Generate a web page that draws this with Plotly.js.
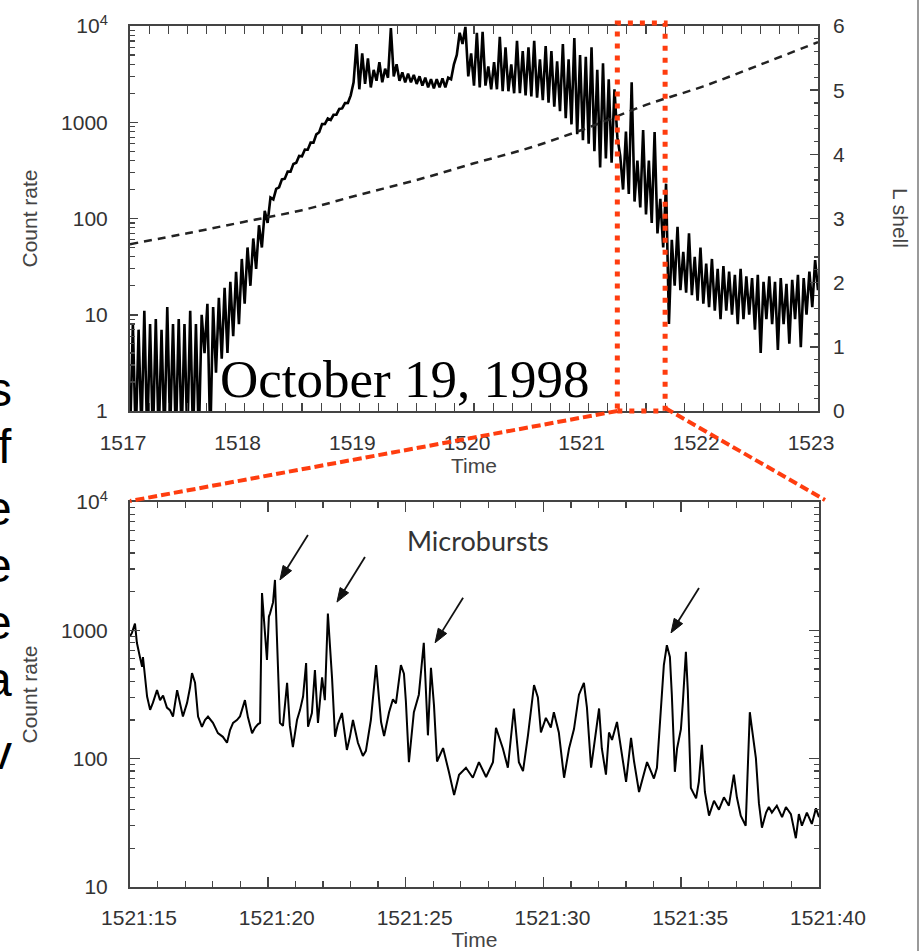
<!DOCTYPE html>
<html><head><meta charset="utf-8">
<script src="https://cdn.plot.ly/plotly-3.0.1.min.js"></script>
<style>html,body{margin:0;padding:0;background:#fff;}#chart{width:922px;height:951px;}</style>
</head><body><div id="chart"></div>
<script>
// ---------- DATA ----------
// Top panel: count rate sampled evenly from 1517 to 1523 (time in minutes, hhmm)
const topStart = 1517, topEnd = 1523;
const topRate = [
  0.5, 8, 0.5, 7, 0.6, 11, 0.5, 8, 0.5, 9,
  0.5, 7, 0.5, 12, 0.6, 8, 0.5, 9, 0.5, 8,
  0.5, 11, 0.5, 8, 0.5, 10, 4, 13, 0.5, 12,
  2.5, 15, 3.5, 19, 4, 22, 6, 28, 8, 38,
  13, 50, 20, 62, 30, 85, 50, 120, 90, 165,
  158, 203, 211, 255, 259, 307, 307, 369, 379, 447,
  442, 520, 518, 614, 614, 749, 787, 957, 960, 1092,
  1056, 1196, 1200, 1373, 1392, 1581, 1584, 1903, 2600, 6500,
  2200, 5200, 2500, 4600, 2300, 3500, 2700, 4200, 2600, 3600,
  2900, 9500, 3000, 4000, 2700, 3300, 2600, 3200, 2600, 3100,
  2500, 3000, 2400, 2900, 2300, 2800, 2250, 2800, 2300, 2850,
  2300, 2900, 2800, 4000, 5000, 8500, 6500, 9800, 3000, 5200,
  2400, 8500, 2300, 8700, 2400, 3800, 2200, 4200, 2200, 7700,
  2100, 6000, 2100, 4000, 2000, 7000, 2000, 5500, 1900, 6000,
  1850, 7000, 1800, 4500, 1700, 6200, 1600, 5500, 1450, 4300,
  1300, 6500, 1100, 4500, 950, 7500, 750, 5000, 650, 4800,
  600, 6000, 500, 3500, 340, 4100, 420, 2800, 380, 2200,
  700, 450, 200, 800, 180, 2600, 150, 400, 130, 830,
  110, 400, 90, 790, 70, 160, 50, 230, 8, 60,
  20, 82, 18, 45, 17, 70, 16, 40, 14, 50,
  13, 34, 12, 38, 11, 30, 9, 32, 11, 28,
  10, 26, 8, 30, 9, 25, 10, 24, 7, 26,
  4, 22, 9, 25, 8, 22, 4.3, 24, 8, 21,
  5, 23, 9, 26, 4.6, 24, 10, 28, 12, 37,
  18
];
// L shell (right axis, dashed)
const lshellTime  = [1517, 1517.5, 1518, 1518.5, 1519, 1519.5, 1520, 1520.5, 1521, 1521.5, 1522, 1522.5, 1523];
const lshellValue = [2.60, 2.77, 2.95, 3.13, 3.37, 3.60, 3.86, 4.11, 4.42, 4.77, 5.06, 5.40, 5.75];

const topXTicks = [1517, 1518, 1519, 1520, 1521, 1522, 1523];
const rateTickVals = [1, 10, 100, 1000, 10000];
const rateTickText = ['1', '10', '100', '1000', '10<sup>4</sup>'];
const lshellTicks = [0, 1, 2, 3, 4, 5, 6];

// Zoomed window (minutes): 1521:15 - 1521:40
const zoomWindow = [1521.25, 1521 + 40 / 60];

// Bottom panel: seconds after 15:21, count rate
const burstSec = [
  15.00, 15.07, 15.18, 15.25, 15.36, 15.44, 15.47, 15.54, 15.62, 15.73,
  15.83, 15.98, 16.09, 16.20, 16.34, 16.45, 16.56, 16.71, 16.81, 16.92,
  17.07, 17.18, 17.25, 17.36, 17.47, 17.61, 17.72, 17.83, 18.01, 18.19,
  18.37, 18.52, 18.63, 18.74, 18.88, 18.99, 19.17, 19.28, 19.43, 19.54,
  19.64, 19.72, 19.79, 19.83, 19.90, 19.97, 20.04, 20.08, 20.19, 20.26,
  20.33, 20.44, 20.55, 20.70, 20.80, 20.91, 21.06, 21.17, 21.28, 21.39,
  21.46, 21.60, 21.71, 21.82, 21.97, 22.07, 22.18, 22.33, 22.44, 22.54,
  22.69, 22.87, 22.98, 23.09, 23.27, 23.45, 23.56, 23.74, 23.93, 24.11,
  24.22, 24.40, 24.54, 24.65, 24.83, 24.94, 25.01, 25.12, 25.30, 25.48,
  25.66, 25.81, 25.92, 26.03, 26.14, 26.36, 26.57, 26.76, 26.94, 27.19,
  27.44, 27.66, 27.92, 28.17, 28.28, 28.53, 28.71, 28.93, 29.11, 29.26,
  29.44, 29.66, 29.80, 29.91, 30.09, 30.27, 30.38, 30.56, 30.75, 30.93,
  31.11, 31.29, 31.47, 31.58, 31.73, 31.83, 32.02, 32.12, 32.27, 32.38,
  32.49, 32.67, 32.81, 33.00, 33.18, 33.29, 33.47, 33.65, 33.76, 33.90,
  34.01, 34.12, 34.26, 34.37, 34.48, 34.59, 34.66, 34.77, 34.85, 34.99,
  35.06, 35.17, 35.24, 35.35, 35.54, 35.64, 35.75, 35.86, 36.01, 36.19,
  36.37, 36.55, 36.73, 36.91, 37.02, 37.16, 37.34, 37.49, 37.57, 37.71,
  37.82, 37.93, 38.08, 38.18, 38.29, 38.47, 38.66, 38.80, 38.98, 39.16,
  39.27, 39.38, 39.56, 39.74, 39.89, 40.00
];
const burstRate = [
  900, 955, 1130, 800, 620, 520, 620, 430, 305, 240,
  272, 342, 286, 310, 250, 239, 213, 342, 272, 213,
  272, 360, 465, 390, 213, 177, 200, 213, 190, 158,
  148, 133, 167, 190, 200, 213, 286, 210, 158, 175,
  185, 190, 1950, 1440, 900, 587, 1280, 1350, 1650, 2470,
  900, 190, 180, 390, 180, 123, 200, 240, 305, 555,
  177, 227, 490, 190, 430, 286, 1350, 430, 148, 185,
  227, 117, 148, 200, 133, 105, 115, 200, 535, 193,
  150, 230, 290, 270, 535, 460, 280, 94, 230, 315,
  800, 152, 510, 260, 95, 121, 79, 52, 75, 85,
  71, 94, 72, 94, 174, 120, 85, 246, 94, 80,
  152, 375, 300, 160, 208, 175, 230, 160, 71, 120,
  170, 315, 390, 250, 85, 120, 246, 120, 75, 160,
  140, 193, 120, 66, 145, 95, 55, 75, 94, 80,
  70, 85, 230, 535, 765, 620, 315, 79, 120, 170,
  275, 680, 340, 59, 49, 66, 128, 55, 36, 47,
  40, 50, 43, 75, 50, 36, 30, 230, 170, 101,
  45, 29, 38, 42, 38, 43, 35, 42, 37, 24,
  37, 30, 38, 31, 41, 35
];
const burstTickVals = [15, 20, 25, 30, 35, 40];
const burstTickText = ['1521:15', '1521:20', '1521:25', '1521:30', '1521:35', '1521:40'];
const burstRateTickVals = [10, 100, 1000, 10000];
const burstRateTickText = ['10', '100', '1000', '10<sup>4</sup>'];

// Microburst arrows (tip positions, seconds / count rate)
const arrowSec  = [20.44, 22.51, 26.07, 34.63];
const arrowRate = [2470, 1660, 800, 955];

// Slide text fragments cut off at the left edge
const sideLetters = ['s', 'f', 'e', 'e', 'e', 'a', 'v'];
const sideLetterY = [389, 446, 508, 565, 622, 679, 752];

// ---------- LAYOUT ----------
const W = 922, H = 951;
const topDomX = [130 / W, 818 / W];
const topDomY = [1 - 411 / H, 1 - 26 / H];
const botDomX = [130 / W, 819 / W];
const botDomY = [1 - 887 / H, 1 - 502 / H];

const topX = topRate.map((_, i) => topStart + i * (topEnd - topStart) / (topRate.length - 1));
const xPaperTop = v => topDomX[0] + (v - topStart) / (topEnd - topStart) * (topDomX[1] - topDomX[0]);
const xPxBot = s => (botDomX[0] + (s - 15) / 25 * (botDomX[1] - botDomX[0])) * W;
const yPxBot = v => (1 - (botDomY[0] + (Math.log10(v) - 1) / 3 * (botDomY[1] - botDomY[0]))) * H;

const RED = '#ff3d0f';
const AX = '#444';
const TXT = '#333';
const tickFont = {family: 'Liberation Sans, Arial, sans-serif', size: 21, color: TXT};
const titleFont = {family: 'Liberation Sans, Arial, sans-serif', size: 21, color: '#444'};

const traces = [
  {x: topX, y: topRate, xaxis: 'x', yaxis: 'y', mode: 'lines',
   line: {color: '#000', width: 2.6}, hoverinfo: 'skip'},
  {x: lshellTime, y: lshellValue, xaxis: 'x', yaxis: 'y2', mode: 'lines',
   line: {color: '#222', width: 2.5, dash: '8px,6px', shape: 'spline'}},
  {x: burstSec, y: burstRate, xaxis: 'x2', yaxis: 'y3', mode: 'lines',
   line: {color: '#000', width: 2}}
];

const annotations = [
  {text: 'October 19, 1998', xref: 'paper', yref: 'paper', x: 218 / W, y: 1 - 379 / H,
   xanchor: 'left', yanchor: 'middle', showarrow: false,
   font: {family: 'Liberation Serif, Times New Roman, serif', size: 53, color: '#000'}},
  {text: 'Microbursts', xref: 'paper', yref: 'paper', x: 478 / W, y: 1 - 540 / H,
   xanchor: 'center', yanchor: 'middle', showarrow: false,
   font: {family: 'Lato, Open Sans, sans-serif', size: 27, color: '#333'}},
  {text: 'L shell', xref: 'paper', yref: 'paper', x: 901 / W, y: 1 - 218 / H,
   xanchor: 'center', yanchor: 'middle', showarrow: false, textangle: 90,
   font: titleFont}
];
sideLetters.forEach((t, i) => {
  annotations.push({text: t, xref: 'paper', yref: 'paper', x: 14 / W, y: 1 - sideLetterY[i] / H,
    xanchor: 'right', yanchor: 'middle', showarrow: false,
    font: {family: 'Liberation Sans, Arial, sans-serif', size: 48, color: '#000'}});
});

const shapes = [
  {type: 'rect', xref: 'x', yref: 'paper', x0: zoomWindow[0], x1: zoomWindow[1],
   y0: topDomY[0], y1: topDomY[1] + 3 / H, fillcolor: 'rgba(0,0,0,0)',
   line: {color: RED, width: 5, dash: '5px,7px'}},
  {type: 'line', xref: 'paper', yref: 'paper',
   x0: xPaperTop(zoomWindow[0]), y0: topDomY[0], x1: botDomX[0], y1: botDomY[1] + 1 / H,
   line: {color: RED, width: 4, dash: '9px,4px'}},
  {type: 'line', xref: 'paper', yref: 'paper',
   x0: xPaperTop(zoomWindow[1]), y0: topDomY[0] + 3 / H, x1: botDomX[1] + 6 / W, y1: botDomY[1] + 2 / H,
   line: {color: RED, width: 4, dash: '9px,4px'}},
  {type: 'line', xref: 'paper', yref: 'paper', x0: 918 / W, x1: 918 / W, y0: 0, y1: 1,
   line: {color: '#9a9a9a', width: 2}}
];
// Arrows pointing at the microbursts (tail offset up-right of the tip)
const tailDx = 28, tailDy = -45, headLen = 14, headHalf = 5;
arrowSec.forEach((s, i) => {
  const tx = xPxBot(s), ty = yPxBot(arrowRate[i]);
  const sx = tx + tailDx, sy = ty + tailDy;
  const L = Math.hypot(tailDx, tailDy);
  const ux = -tailDx / L, uy = -tailDy / L;     // direction tail -> tip
  const bx = tx - ux * headLen, by = ty - uy * headLen;
  const nx = -uy, ny = ux;
  const P = (x, y) => (x / W).toFixed(5) + ',' + (1 - y / H).toFixed(5);
  shapes.push({type: 'line', xref: 'paper', yref: 'paper',
    x0: sx / W, y0: 1 - sy / H, x1: bx / W, y1: 1 - by / H,
    line: {color: '#111', width: 1.8}});
  shapes.push({type: 'path', xref: 'paper', yref: 'paper',
    path: 'M' + P(tx, ty) + 'L' + P(bx + nx * headHalf, by + ny * headHalf) +
          'L' + P(bx - nx * headHalf, by - ny * headHalf) + 'Z',
    fillcolor: '#111', line: {color: '#111', width: 1}});
});

const common = {showgrid: false, zeroline: false, showline: true, linecolor: AX, linewidth: 2,
  ticks: 'inside', tickcolor: AX, tickwidth: 1.5, tickfont: tickFont};

const layout = {
  width: W, height: H, margin: {l: 0, r: 0, t: 0, b: 0},
  paper_bgcolor: '#fff', plot_bgcolor: 'rgba(0,0,0,0)', showlegend: false,
  xaxis: Object.assign({}, common, {domain: topDomX, anchor: 'y', range: [topStart, topEnd],
    tickvals: topXTicks, ticktext: topXTicks.map(String), ticklen: 8, mirror: 'allticks',
    minor: {dtick: 1 / 6, tick0: topStart, ticks: 'inside', ticklen: 5, tickcolor: AX, tickwidth: 1.2},
    ticklabelshift: -7, ticklabelstandoff: 12,
    title: {text: 'Time', font: titleFont, standoff: 2}}),
  yaxis: Object.assign({}, common, {domain: topDomY, anchor: 'x', type: 'log', range: [0, 4],
    tickvals: rateTickVals, ticktext: rateTickText, ticklen: 8, mirror: true,
    minor: {dtick: 'D1', ticks: 'inside', ticklen: 5, tickcolor: AX, tickwidth: 1.2},
    ticklabelstandoff: 16,
    title: {text: 'Count rate', font: titleFont, standoff: 18}}),
  yaxis2: Object.assign({}, common, {overlaying: 'y', side: 'right', anchor: 'x', range: [0, 6],
    showline: false, tickvals: lshellTicks, ticklen: 8,
    minor: {dtick: 0.2, ticks: 'inside', ticklen: 4, tickcolor: AX, tickwidth: 1.2},
    ticklabelstandoff: 14}),
  xaxis2: Object.assign({}, common, {domain: botDomX, anchor: 'y3', range: [15, 40],
    tickvals: burstTickVals, ticktext: burstTickText, ticklen: 10, mirror: 'allticks',
    minor: {dtick: 1, tick0: 15, ticks: 'inside', ticklen: 6, tickcolor: AX, tickwidth: 1.2},
    ticklabelshift: 9, ticklabelstandoff: 11,
    title: {text: 'Time', font: titleFont, standoff: 2}}),
  yaxis3: Object.assign({}, common, {domain: botDomY, anchor: 'x2', type: 'log', range: [1, 4],
    tickvals: burstRateTickVals, ticktext: burstRateTickText, ticklen: 10, mirror: 'allticks',
    minor: {dtick: 'D1', ticks: 'inside', ticklen: 5, tickcolor: AX, tickwidth: 1.2},
    ticklabelstandoff: 16,
    title: {text: 'Count rate', font: titleFont, standoff: 18}}),
  annotations: annotations,
  shapes: shapes
};

Plotly.newPlot('chart', traces, layout, {staticPlot: true, displayModeBar: false});
</script>
</body></html>
